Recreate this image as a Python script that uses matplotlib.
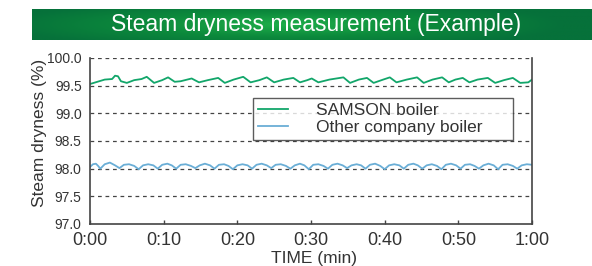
import numpy as np
import matplotlib
matplotlib.use("Agg")
import matplotlib.pyplot as plt
from matplotlib.colors import LinearSegmentedColormap

plt.rcParams['font.family'] = ['Liberation Sans', 'DejaVu Sans']

title = "Steam dryness measurement (Example)"
ylabel = "Steam dryness (%)"
xlabel = "TIME (min)"
series_names = ["SAMSON boiler", "Other company boiler"]
xtick_vals = [0, 10, 20, 30, 40, 50, 60]
xtick_labels = ["0:00", "0:10", "0:20", "0:30", "0:40", "0:50", "1:00"]
ytick_vals = [97.0, 97.5, 98.0, 98.5, 99.0, 99.5, 100.0]
ytick_labels = ["97.0", "97.5", "98.0", "98.5", "99.0", "99.5", "100.0"]

samson_t = [0, 1, 2, 3, 3.4, 3.8, 4.2, 5.0, 6.0, 7.0, 7.7, 8.7, 9.8, 10.6, 11.5,
            12.3, 13.8, 14.8, 16.0, 17.4, 18.3, 19.5, 20.8, 21.8, 23.0, 24.0,
            25.0, 26.3, 27.6, 28.5, 29.5, 30.1, 31.0, 32.5, 34.4, 35.3, 36.5,
            37.6, 38.5, 39.8, 40.7, 41.6, 43.0, 44.4, 45.3, 46.5, 47.8, 48.7,
            49.6, 50.6, 51.5, 52.6, 54.0, 55.0, 56.2, 57.4, 58.4, 59.5, 60]
samson_v = [99.53, 99.57, 99.61, 99.62, 99.68, 99.67, 99.58, 99.55, 99.60, 99.62,
            99.66, 99.55, 99.60, 99.65, 99.57, 99.58, 99.63, 99.56, 99.60, 99.64,
            99.55, 99.61, 99.66, 99.56, 99.60, 99.65, 99.56, 99.61, 99.64, 99.56,
            99.60, 99.63, 99.56, 99.61, 99.65, 99.55, 99.61, 99.64, 99.55, 99.61,
            99.65, 99.56, 99.61, 99.65, 99.55, 99.61, 99.65, 99.56, 99.61, 99.64,
            99.56, 99.61, 99.64, 99.55, 99.60, 99.64, 99.55, 99.56, 99.61]

other_t = [0, 0.4, 0.8, 1.1, 1.4, 2.0, 2.7, 3.4, 4.0, 4.6, 5.3, 6.0, 6.6, 7.2,
           7.9, 8.6, 9.2, 9.8, 10.5, 11.1, 11.7, 12.3, 13.0, 13.7, 14.3, 14.9,
           15.6, 16.3, 16.9, 17.5, 18.2, 18.8, 19.4, 20.0, 20.7, 21.4, 22.0,
           22.6, 23.3, 24.0, 24.6, 25.2, 25.9, 26.6, 27.2, 27.8, 28.5, 29.1,
           29.7, 30.3, 31.0, 31.7, 32.3, 32.9, 33.6, 34.3, 34.9, 35.5, 36.2,
           36.8, 37.4, 38.0, 38.7, 39.4, 40.0, 40.6, 41.3, 42.0, 42.6, 43.2,
           43.9, 44.5, 45.1, 45.7, 46.4, 47.1, 47.7, 48.3, 49.0, 49.7, 50.3,
           50.9, 51.6, 52.2, 52.8, 53.4, 54.1, 54.8, 55.4, 56.0, 56.7, 57.4,
           58.0, 58.6, 59.3, 60.0]
other_v = [98.03, 98.08, 98.09, 98.05, 98.00, 98.08, 98.11, 98.06, 98.01, 98.07,
           98.08, 98.05, 97.99, 98.06, 98.08, 98.06, 98.00, 98.07, 98.09, 98.06,
           98.00, 98.07, 98.08, 98.05, 98.01, 98.06, 98.09, 98.06, 98.00, 98.07,
           98.08, 98.05, 97.99, 98.06, 98.08, 98.06, 98.00, 98.07, 98.09, 98.06,
           98.01, 98.07, 98.08, 98.05, 98.00, 98.06, 98.09, 98.06, 97.99, 98.07,
           98.08, 98.05, 98.00, 98.07, 98.09, 98.06, 98.01, 98.06, 98.08, 98.06,
           98.00, 98.07, 98.09, 98.05, 97.99, 98.06, 98.08, 98.06, 98.00, 98.07,
           98.09, 98.06, 98.00, 98.06, 98.08, 98.05, 97.99, 98.07, 98.09, 98.06,
           98.00, 98.07, 98.08, 98.05, 98.00, 98.06, 98.09, 98.06, 97.99, 98.07,
           98.08, 98.05, 98.00, 98.06, 98.08, 98.07]

W, H = 592, 266
fig = plt.figure(figsize=(W / 100, H / 100), dpi=100)

# banner
bax = fig.add_axes([32 / W, 1 - 40 / H, 1 - 32 / W, 31 / H])
gx = np.linspace(-1, 1, 400)
gy = np.linspace(-1, 1, 40)
GX, GY = np.meshgrid(gx, gy)
R = np.clip(np.sqrt(((GX + 0.1) / 1.0) ** 2 + (GY / 1.6) ** 2), 0, 1)
cmap = LinearSegmentedColormap.from_list("g", ["#1fae4a", "#0c8a3c", "#06713a"])
bax.imshow(R, cmap=cmap, aspect="auto", extent=[0, 1, 0, 1], vmin=0, vmax=1)
bax.axis("off")
fig.text(316 / W, 1 - 24.5 / H, title, color="white", fontsize=16.5,
         ha="center", va="center")

ax = fig.add_axes([90 / W, 1 - 224 / H, 442 / W, 166 / H])
ax.plot(samson_t, samson_v, color="#12a66a", lw=1.3, label=series_names[0])
ax.plot(other_t, other_v, color="#6aaed6", lw=1.3, label=series_names[1])

ax.set_xlim(0, 60)
ax.set_ylim(97.0, 100.0)
for y in ytick_vals[1:]:
    ax.axhline(y, color="#444444", lw=0.9, ls=(0, (3, 3)), zorder=0)

ax.spines["top"].set_visible(False)
for s in ["left", "bottom", "right"]:
    ax.spines[s].set_color("#444444")
    ax.spines[s].set_linewidth(1.2)

ax.set_xticks(xtick_vals)
ax.set_xticklabels(xtick_labels, fontsize=13, color="#333333",
                   family=["Liberation Sans Narrow", "Liberation Sans"])
ax.set_yticks(ytick_vals)
ax.set_yticklabels(ytick_labels, fontsize=10, color="#333333",
                   family=["Liberation Sans Narrow", "Liberation Sans"])
ax.tick_params(axis="x", direction="in", length=3, width=1, color="#444444", pad=6)
ax.tick_params(axis="y", length=0, pad=6)

ax.set_xlabel(xlabel, fontsize=12.5, color="#333333", va="top")
ax.xaxis.set_label_coords(0.507, -0.16)
ax.set_ylabel(ylabel, fontsize=12.5, color="#333333")
ax.yaxis.set_label_coords(-0.097, 0.548)

leg = ax.legend(loc="upper left", bbox_to_anchor=(0.369, 0.464, 0.588, 0.295),
                mode="expand", frameon=True, fancybox=False, fontsize=12.5,
                handlelength=1.7, handletextpad=1.6, borderpad=0.3,
                borderaxespad=0, labelspacing=0.1)
leg.get_frame().set_edgecolor("#333333")
leg.get_frame().set_linewidth(1.0)
for t in leg.get_texts():
    t.set_color("#333333")

fig.savefig("out.png", dpi=100)
